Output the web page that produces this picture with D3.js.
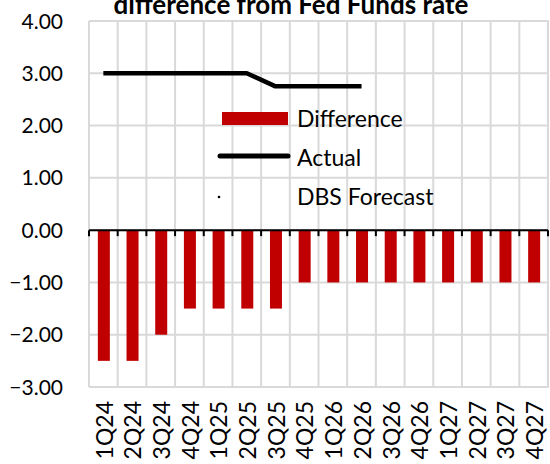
<!DOCTYPE html>
<html><head><meta charset="utf-8">
<script src="https://cdn.jsdelivr.net/npm/d3@7"></script>
<style>body{margin:0;background:#fff}svg{display:block}</style>
</head><body>
<svg id="c" width="550" height="464"></svg>
<script>
const categories = ["1Q24","2Q24","3Q24","4Q24","1Q25","2Q25","3Q25","4Q25","1Q26","2Q26","3Q26","4Q26","1Q27","2Q27","3Q27","4Q27"];
const difference = [-2.5,-2.5,-2.0,-1.5,-1.5,-1.5,-1.5,-1.0,-1.0,-1.0,-1.0,-1.0,-1.0,-1.0,-1.0,-1.0];
const actual = [3.0,3.0,3.0,3.0,3.0,3.0,2.75,2.75,2.75,2.75,null,null,null,null,null,null];
const forecast = [null,null,null,null,null,null,null,null,null,null,null,null,null,null,null,null];
const yTicks = [4,3,2,1,0,-1,-2,-3];
const title = "difference from Fed Funds rate";
const legendLabels = ["Difference","Actual","DBS Forecast"];

const font = "Lato, 'Open Sans', sans-serif";
const svg = d3.select("#c");
const L = 89, R = 548, T = 21, B = 387;
const x = d3.scaleBand().domain(categories).range([L, R]).paddingInner(0).paddingOuter(0);
const y = d3.scaleLinear().domain([-3, 4]).range([B, T]);
const grid = "#d9d9d9";

// horizontal grid
svg.append("g").selectAll("line").data(yTicks).join("line")
  .attr("x1", L).attr("x2", R + 1).attr("y1", d => y(d)).attr("y2", d => y(d))
  .attr("stroke", grid).attr("stroke-width", 2);
// vertical grid at band boundaries
const bounds = categories.map(c => x(c)).concat([R]);
svg.append("g").selectAll("line").data(bounds).join("line")
  .attr("x1", d => d).attr("x2", d => d).attr("y1", T).attr("y2", B)
  .attr("stroke", grid).attr("stroke-width", 2);

// y axis labels
svg.append("g").selectAll("text").data(yTicks).join("text")
  .attr("x", 63).attr("y", d => y(d)).attr("dy", "0.36em")
  .attr("text-anchor", "end").attr("font-family", font).attr("font-size", 21).attr("fill", "#000")
  .text(d => d3.format(".2f")(d));

// bars
const bw = 12;
svg.append("g").selectAll("rect").data(difference).join("rect")
  .attr("x", (d, i) => x(categories[i]) + x.bandwidth() / 2 - bw / 2 + 0.5)
  .attr("width", bw)
  .attr("y", d => y(Math.max(0, d)))
  .attr("height", d => Math.abs(y(d) - y(0)))
  .attr("fill", "#c00000");

// zero axis with ticks
svg.append("line").attr("x1", L).attr("x2", R).attr("y1", y(0)).attr("y2", y(0))
  .attr("stroke", "#000").attr("stroke-width", 2);
svg.append("g").selectAll("line").data(bounds).join("line")
  .attr("x1", d => d).attr("x2", d => d).attr("y1", y(0)).attr("y2", y(0) + 6)
  .attr("stroke", "#000").attr("stroke-width", 2);

// actual line
const line = d3.line()
  .defined(d => d != null)
  .x((d, i) => x(categories[i]) + x.bandwidth() / 2)
  .y(d => y(d));
svg.append("path").datum(actual).attr("d", line)
  .attr("fill", "none").attr("stroke", "#000").attr("stroke-width", 4.5).attr("stroke-linejoin", "round");
svg.append("path").datum(forecast).attr("d", line)
  .attr("fill", "none").attr("stroke", "#000").attr("stroke-width", 2).attr("stroke-dasharray", "1,4");

// x labels
svg.append("g").selectAll("text").data(categories).join("text")
  .attr("transform", d => `translate(${x(d) + x.bandwidth() / 2 + 1},401) rotate(-90)`)
  .attr("dy", "0.36em").attr("text-anchor", "end")
  .attr("font-family", font).attr("font-size", 23).attr("fill", "#000")
  .text(d => d);

// legend
const lg = svg.append("g");
lg.append("rect").attr("x", 222).attr("y", 112).attr("width", 66).attr("height", 13).attr("fill", "#c00000");
lg.append("line").attr("x1", 220).attr("x2", 288).attr("y1", 156).attr("y2", 156)
  .attr("stroke", "#000").attr("stroke-width", 5).attr("stroke-linecap", "round");
lg.append("circle").attr("cx", 219).attr("cy", 197).attr("r", 1.3).attr("fill", "#000");
lg.selectAll("text").data(legendLabels).join("text")
  .attr("x", 297).attr("y", (d, i) => 119 + i * 39).attr("dy", "0.36em")
  .attr("font-family", font).attr("font-size", 23).attr("fill", "#000")
  .text(d => d);

// title
svg.append("text").attr("x", 291).attr("y", 14).attr("text-anchor", "middle")
  .attr("font-family", font).attr("font-size", 26).attr("font-weight", "bold").attr("fill", "#000")
  .text(title);
</script>
</body></html>
